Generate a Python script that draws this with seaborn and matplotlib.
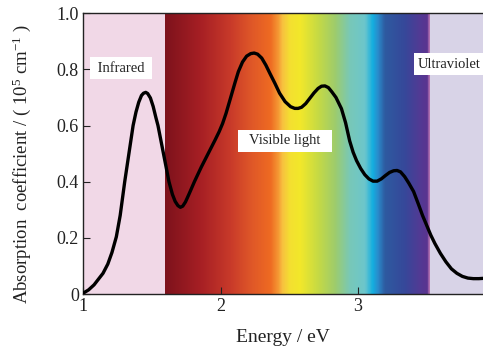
import numpy as np
import pandas as pd
import matplotlib
matplotlib.use("Agg")
import matplotlib.pyplot as plt
from matplotlib.colors import LinearSegmentedColormap
import seaborn as sns

# ---- data ----
energy = [1.00, 1.04, 1.08, 1.11, 1.145, 1.18, 1.21, 1.242, 1.27, 1.303, 1.335, 1.364,
          1.385, 1.405, 1.425, 1.44, 1.456, 1.47, 1.49, 1.51, 1.53, 1.545, 1.565, 1.585,
          1.605, 1.625, 1.65, 1.67, 1.69, 1.708, 1.725, 1.745, 1.77, 1.81, 1.86, 1.91,
          1.96, 1.99, 2.015, 2.04, 2.07, 2.105, 2.13, 2.16, 2.19, 2.22, 2.245, 2.27,
          2.30, 2.33, 2.36, 2.396, 2.43, 2.47, 2.51, 2.54, 2.565, 2.59, 2.62, 2.65,
          2.68, 2.71, 2.735, 2.76, 2.785, 2.81, 2.84, 2.88, 2.91, 2.94, 2.965, 2.99,
          3.02, 3.05, 3.08, 3.11, 3.14, 3.17, 3.20, 3.23, 3.26, 3.285, 3.31, 3.34,
          3.37, 3.405, 3.44, 3.47, 3.50, 3.53, 3.56, 3.60, 3.64, 3.68, 3.72, 3.76,
          3.80, 3.84, 3.88, 3.91]
absorption = [0.003, 0.015, 0.033, 0.052, 0.074, 0.107, 0.148, 0.204, 0.28, 0.40, 0.505, 0.60,
              0.648, 0.683, 0.707, 0.715, 0.718, 0.714, 0.698, 0.668, 0.628, 0.60, 0.55, 0.50,
              0.45, 0.40, 0.355, 0.33, 0.315, 0.309, 0.313, 0.328, 0.355, 0.40, 0.452, 0.50,
              0.548, 0.578, 0.607, 0.643, 0.693, 0.752, 0.792, 0.826, 0.847, 0.856, 0.858, 0.854,
              0.84, 0.815, 0.785, 0.75, 0.715, 0.685, 0.667, 0.661, 0.661, 0.665, 0.678, 0.697,
              0.716, 0.732, 0.74, 0.741, 0.735, 0.72, 0.70, 0.66, 0.61, 0.545, 0.505, 0.475,
              0.447, 0.425, 0.41, 0.402, 0.402, 0.41, 0.422, 0.433, 0.439, 0.44, 0.435, 0.418,
              0.395, 0.365, 0.32, 0.28, 0.245, 0.21, 0.18, 0.145, 0.115, 0.09, 0.074, 0.063,
              0.057, 0.055, 0.055, 0.056]
region_labels = ["Infrared", "Visible light", "Ultraviolet"]
x_ticks = [1, 2, 3]
y_ticks = [0, 0.2, 0.4, 0.6, 0.8, 1.0]
y_tick_labels = ["0", "0.2", "0.4", "0.6", "0.8", "1.0"]

df = pd.DataFrame({"energy": energy, "absorption": absorption})

# ---- style ----
sns.set_theme(style="ticks")
plt.rcParams["font.family"] = ["Liberation Serif", "DejaVu Serif"]
plt.rcParams["mathtext.fontset"] = "custom"
plt.rcParams["mathtext.rm"] = "Liberation Serif"
plt.rcParams["mathtext.it"] = "Liberation Serif:italic"

fig = plt.figure(figsize=(4.83, 3.46), dpi=100)
ax = fig.add_axes([0.172, 0.150, 0.828, 0.812])

xmin, xmax = 1.0, 3.91
ir_end, uv_start = 1.596, 3.52

# background regions
ax.axvspan(xmin, ir_end, color="#f1d8e7", lw=0, zorder=0)
ax.axvspan(uv_start, xmax + 0.1, color="#d8d3e7", lw=0, zorder=0)

stops = [(1.596, "#7e121c"), (1.85, "#a61f24"), (2.07, "#c83a2a"), (2.215, "#de5628"),
         (2.36, "#ee6a22"), (2.42, "#f59a34"), (2.447, "#f8c040"), (2.505, "#f4e030"),
         (2.578, "#f2e82a"), (2.709, "#c6da44"), (2.833, "#9ecc6c"), (2.942, "#78c8b8"),
         (3.051, "#6cc6cc"), (3.109, "#12aee0"), (3.145, "#2a8ccc"), (3.196, "#2e5aa0"),
         (3.342, "#36489a"), (3.451, "#523a94"), (3.505, "#5a3490"), (3.52, "#b070b0")]
pos = [(s[0] - stops[0][0]) / (stops[-1][0] - stops[0][0]) for s in stops]
cmap = LinearSegmentedColormap.from_list("spec", list(zip(pos, [s[1] for s in stops])))
grad = np.linspace(0, 1, 600).reshape(1, -1)
ax.imshow(grad, extent=[ir_end, uv_start, 0, 1.0], aspect="auto", cmap=cmap,
          zorder=0.5, interpolation="bilinear")

sns.lineplot(data=df, x="energy", y="absorption", ax=ax, color="black", lw=2.4,
             zorder=3, sort=False)
ax.lines[-1].set_solid_joinstyle("round")
ax.lines[-1].set_solid_capstyle("round")

box = dict(boxstyle="square,pad=0.3", facecolor="white", edgecolor="none")
ax.text(1.276, 0.804, " " + region_labels[0] + " ", ha="center", va="center",
        fontsize=10.5, bbox=box, zorder=4, color="#222222")
ax.text(2.47, 0.545, "  " + region_labels[1] + "  ", ha="center", va="center",
        fontsize=10.5, bbox=box, zorder=4, color="#222222")
ax.text(3.665, 0.818, region_labels[2], ha="center", va="center",
        fontsize=10.5, bbox=box, zorder=4, color="#222222")

ax.set_xlim(xmin, xmax)
ax.set_ylim(0, 1.0)
ax.set_xticks(x_ticks)
ax.set_xticklabels([str(t) for t in x_ticks])
ax.set_yticks(y_ticks)
ax.set_yticklabels(y_tick_labels)
ax.tick_params(direction="in", length=5, width=0.8, labelsize=13, colors="#222222",
               pad=3)
for s in ["top", "left", "bottom"]:
    ax.spines[s].set_color("#222222")
    ax.spines[s].set_linewidth(1.0)
ax.spines["right"].set_visible(False)

ax.set_xlabel("Energy / eV", fontsize=14, color="#222222", labelpad=10)
ax.set_ylabel(r"Absorption  coefficient / ( 10$^5$ cm$^{-1}$ )", fontsize=13.5,
              color="#222222")
ax.yaxis.set_label_coords(-0.125, 0.462)

fig.savefig("out.png", dpi=100)
